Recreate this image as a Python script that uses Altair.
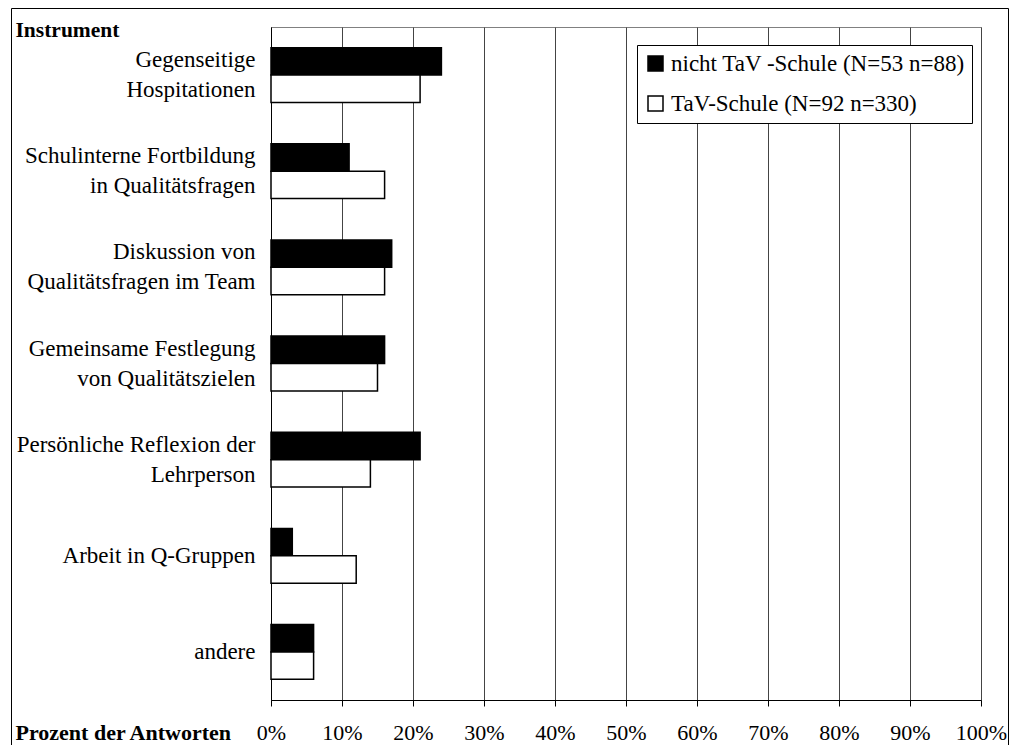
import altair as alt
import pandas as pd

# ---- data ----
instrumente = [
    "Gegenseitige|Hospitationen",
    "Schulinterne Fortbildung|in Qualitätsfragen",
    "Diskussion von|Qualitätsfragen im Team",
    "Gemeinsame Festlegung|von Qualitätszielen",
    "Persönliche Reflexion der|Lehrperson",
    "Arbeit in Q-Gruppen",
    "andere",
]
serien = ["nicht TaV -Schule (N=53 n=88)", "TaV-Schule (N=92 n=330)"]
nicht_tav = [24, 11, 17, 16, 21, 3, 6]
tav = [21, 16, 16, 15, 14, 12, 6]
x_ticks = [0, 10, 20, 30, 40, 50, 60, 70, 80, 90, 100]

rows = []
for i, inst in enumerate(instrumente):
    rows.append({"Instrument": inst, "Gruppe": serien[0], "Wert": nicht_tav[i]})
    rows.append({"Instrument": inst, "Gruppe": serien[1], "Wert": tav[i]})
df = pd.DataFrame(rows)

FONT = "Liberation Serif"

bars = alt.Chart(df).mark_bar(stroke="black", strokeWidth=1.5).encode(
    x=alt.X(
        "Wert:Q",
        scale=alt.Scale(domain=[0, 100], nice=False, zero=True),
        axis=alt.Axis(
            values=x_ticks,
            labelExpr="datum.value + '%'",
            grid=True, gridColor="#444444", gridWidth=1,
            tickSize=6, tickColor="black", domainColor="black",
            labelBaseline="alphabetic", labelPadding=33,
            labelFontSize=22, labelColor="black", labelFlush=False,
            title="Prozent der Antworten", titleX=-256, titleY=39,
            titleAlign="left", titleBaseline="alphabetic",
            titleFontSize=22, titleFontWeight="bold", titleColor="black",
        ),
    ),
    y=alt.Y(
        "Instrument:N",
        sort=instrumente,
        scale=alt.Scale(paddingInner=0.43, paddingOuter=0.215),
        axis=alt.Axis(
            ticks=False, labelPadding=16,
            labelExpr="split(datum.label, '|')",
            labelOffset={"condition": {"test": "indexof(datum.value, '|') >= 0", "value": -15},
                         "value": 0},
            labelLineHeight=30, labelFontSize=23, labelLimit=320,
            labelColor="black", domainColor="black",
            title="Instrument", titleAngle=0, titleX=-256, titleY=9,
            titleAlign="left", titleBaseline="alphabetic",
            titleFontSize=21.5, titleFontWeight="bold", titleColor="black",
        ),
    ),
    yOffset=alt.YOffset("Gruppe:N", sort=serien,
                        scale=alt.Scale(paddingInner=0, paddingOuter=0)),
    fill=alt.Fill(
        "Gruppe:N",
        sort=serien,
        scale=alt.Scale(domain=serien, range=["black", "white"]),
        legend=alt.Legend(
            orient="none", legendX=366, legendY=18, title=None,
            fillColor="white", strokeColor="black", padding=7,
            symbolType="square", symbolSize=225,
            symbolStrokeColor="black", symbolStrokeWidth=1.5,
            labelFontSize=23, labelColor="black", labelOffset=4,
            rowPadding=16, labelLimit=400,
        ),
    ),
)

frame_data = alt.Data(values=[{"k": 0}])
frame_left = alt.Chart(frame_data).mark_rule(color="black", strokeWidth=1).encode(
    x=alt.value(-259.5), y=alt.value(-18.5), y2=alt.value(718))
frame_right = alt.Chart(frame_data).mark_rule(color="black", strokeWidth=1).encode(
    x=alt.value(737.5), y=alt.value(-18.5), y2=alt.value(718))
frame_top = alt.Chart(frame_data).mark_rule(color="black", strokeWidth=1).encode(
    x=alt.value(-259.5), x2=alt.value(737.5), y=alt.value(-18.5))

chart = alt.layer(bars, frame_left, frame_right, frame_top).properties(
    width=710,
    height=673,
    autosize=alt.AutoSizeParams(type="none"),
    padding={"left": 263, "top": 19, "right": 29, "bottom": 45},
).configure(font=FONT).configure_view(stroke="#808080", strokeWidth=1)

chart.save("out.html", embed_options={"renderer": "svg", "actions": False})
